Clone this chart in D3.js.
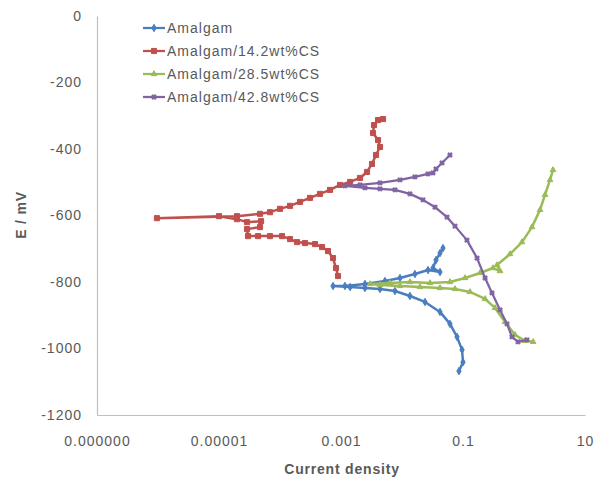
<!DOCTYPE html>
<html>
<head>
<meta charset="utf-8">
<script src="https://cdn.jsdelivr.net/npm/d3@7"></script>
<style>
  html, body { margin: 0; padding: 0; background: #fff; }
  svg { display: block; }
  text { font-family: "Liberation Sans", Arial, sans-serif; }
</style>
</head>
<body>
<svg id="chart" width="595" height="482"></svg>
<script>
// ---- Data ----
const seriesNames = ["Amalgam", "Amalgam/14.2wt%CS", "Amalgam/28.5wt%CS", "Amalgam/42.8wt%CS"];

const amalgamI = [0.0859, 0.100, 0.0964, 0.0798, 0.0612, 0.0420, 0.0238, 0.0135, 0.00767, 0.00436, 0.00247, 0.00141, 0.00074,
  0.00116, 0.00247, 0.00526, 0.00927, 0.0163, 0.0267, 0.0420, 0.0322, 0.0361, 0.0420, 0.0470];
const amalgamE = [-1068, -1041, -1004, -965, -926, -890, -860, -842, -827, -821, -818, -815, -812,
  -812, -806, -797, -788, -776, -764, -770, -758, -734, -713, -698];

const cs142I = [0.000893, 0.000828, 0.000740, 0.000612, 0.000489, 0.000375, 0.000257, 0.000190, 0.000146, 0.000108,
  0.0000685, 0.0000436, 0.0000299, 0.0000288, 0.0000470, 0.0000489, 0.0000288, 0.0000197, 0.0000100, 0.00000096,
  0.0000197, 0.0000470, 0.0000685, 0.000100, 0.000146, 0.000213, 0.000310, 0.000453, 0.000661, 0.000964,
  0.00141, 0.00205, 0.00267, 0.00322, 0.00375, 0.00436, 0.00405, 0.00335, 0.00348, 0.00405, 0.00489];
const cs142E = [-782, -758, -728, -707, -695, -686, -683, -680, -671, -662,
  -662, -662, -662, -641, -635, -617, -620, -611, -602, -608,
  -602, -595, -590, -580, -571, -559, -547, -535, -523, -508,
  -499, -487, -469, -445, -418, -394, -373, -352, -328, -313, -310];

const cs285I = [1.41, 1.04, 0.711, 0.489, 0.335, 0.230, 0.130, 0.0740, 0.0420, 0.0197, 0.00927, 0.00436, 0.00299,
  0.00635, 0.0135, 0.0288, 0.0612, 0.108, 0.190, 0.310, 0.405, 0.361, 0.589, 0.927, 1.35, 1.83, 2.21, 2.67, 2.99];
const cs285E = [-980, -977, -959, -920, -878, -851, -830, -821, -818, -815, -812, -809, -806,
  -803, -800, -803, -800, -788, -773, -758, -767, -749, -716, -680, -635, -583, -538, -493, -463];

const cs428I = [1.12, 0.798, 0.635, 0.526, 0.405, 0.299, 0.230, 0.170, 0.116, 0.0740, 0.0547, 0.0348, 0.0221, 0.0135,
  0.00767, 0.00436, 0.00247, 0.00116, 0.00205, 0.00436, 0.00927, 0.0163, 0.0267, 0.0322, 0.0361, 0.0453, 0.0612];
const cs428E = [-974, -980, -965, -926, -884, -833, -788, -728, -674, -632, -605, -575, -553, -535,
  -523, -520, -517, -511, -508, -502, -493, -484, -475, -472, -460, -442, -418];

const xTicks = [1e-7, 1e-5, 1e-3, 1e-1, 10];
const xTickLabels = ["0.000000", "0.00001", "0.001", "0.1", "10"];
const yTicks = [0, -200, -400, -600, -800, -1000, -1200];
const xTitle = "Current density";
const yTitle = "E / mV";

// ---- Styles ----
const colors = ["#4A7EBF", "#C0504D", "#9BBB59", "#8064A2"];
const symbols = [d3.symbolDiamond, d3.symbolSquare, d3.symbolTriangle, d3.symbolCross];
const lineWidths = [2.5, 2.5, 2.5, 2.25];
const markerSizes = [16, 26, 14, 12];

const series = [
  { I: amalgamI, E: amalgamE },
  { I: cs142I, E: cs142E },
  { I: cs285I, E: cs285E },
  { I: cs428I, E: cs428E }
].map((s, k) => ({ name: seriesNames[k], color: colors[k], symbol: symbols[k], lw: lineWidths[k], ms: markerSizes[k],
  pts: s.I.map((v, i) => ({ x: v, y: s.E[i] })) }));

const svg = d3.select("#chart");
const plotL = 97, plotR = 585, plotT = 16, plotB = 415;

const x = d3.scaleLog().domain([1e-7, 10]).range([plotL, plotR]);
const y = d3.scaleLinear().domain([-1200, 0]).range([plotB, plotT]);

const axisColor = "#BFBFBF";
const labelColor = "#595959";

// y axis
const yAxis = svg.append("g").attr("transform", `translate(${plotL},0)`)
  .call(d3.axisLeft(y).tickValues(yTicks).tickSize(0).tickPadding(15).tickFormat(d => String(d)));
yAxis.select(".domain").attr("stroke", axisColor).attr("stroke-width", 1.2);
yAxis.selectAll("text").attr("fill", labelColor).style("font-size", "14px").style("letter-spacing", "1px");

// x axis
const xAxis = svg.append("g").attr("transform", `translate(0,${plotB})`)
  .call(d3.axisBottom(x).tickValues(xTicks).tickSize(0).tickPadding(21)
    .tickFormat((d, i) => xTickLabels[i]));
xAxis.select(".domain").attr("stroke", axisColor).attr("stroke-width", 1.2);
xAxis.selectAll("text").attr("fill", labelColor).style("font-size", "14px").style("letter-spacing", "1px");

// axis titles
svg.append("text").attr("x", (plotL + plotR) / 2 + 1).attr("y", 474)
  .attr("text-anchor", "middle").attr("font-weight", "bold").style("font-size", "14px")
  .style("letter-spacing", "0.8px").attr("fill", labelColor).text(xTitle);
svg.append("text").attr("transform", "translate(26,215) rotate(-90)")
  .attr("text-anchor", "middle").attr("font-weight", "bold").style("font-size", "14px")
  .style("letter-spacing", "0.8px").attr("fill", labelColor).text(yTitle);

// series
const line = d3.line().x(d => x(d.x)).y(d => y(d.y));
series.forEach(s => {
  const g = svg.append("g");
  g.append("path").datum(s.pts).attr("d", line).attr("fill", "none")
    .attr("stroke", s.color).attr("stroke-width", s.lw).attr("stroke-linejoin", "round");
  const sym = d3.symbol().type(s.symbol).size(s.ms);
  g.selectAll("path.m").data(s.pts).join("path").attr("class", "m")
    .attr("d", sym)
    .attr("transform", d => `translate(${x(d.x)},${y(d.y)})` + (s.symbol === d3.symbolCross ? " rotate(45)" : ""))
    .attr("fill", s.color).attr("stroke", s.color).attr("stroke-width", 1);
});

// legend
const legY = [28, 51, 74, 97];
const leg = svg.append("g");
series.forEach((s, k) => {
  const gy = legY[k];
  leg.append("line").attr("x1", 143).attr("x2", 165).attr("y1", gy).attr("y2", gy)
    .attr("stroke", s.color).attr("stroke-width", 2.25);
  const sym = d3.symbol().type(s.symbol).size(s.ms);
  leg.append("path").attr("d", sym)
    .attr("transform", `translate(154,${gy})` + (s.symbol === d3.symbolCross ? " rotate(45)" : ""))
    .attr("fill", s.color).attr("stroke", s.color);
  leg.append("text").attr("x", 167).attr("y", gy).attr("dy", "0.35em")
    .style("font-size", "14px").style("letter-spacing", "1px").attr("fill", labelColor).text(s.name);
});
</script>
</body>
</html>
